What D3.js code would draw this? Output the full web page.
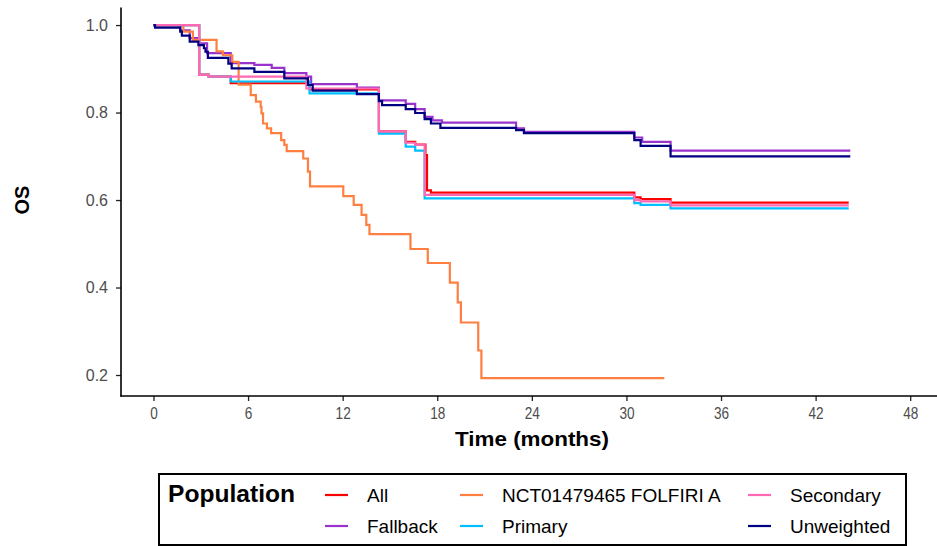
<!DOCTYPE html>
<html>
<head>
<meta charset="utf-8">
<script src="https://cdn.jsdelivr.net/npm/d3@7"></script>
<style>
  html, body { margin: 0; padding: 0; background: #ffffff; }
  svg { display: block; font-family: "Liberation Sans", Arial, sans-serif; }
</style>
</head>
<body>
<svg id="chart" width="937" height="546"></svg>
<script>
// Kaplan-Meier overall survival estimates (time in months, survival probability)
const allTime = [0, 2.9, 3.5, 4.9, 9.9, 14.3, 16.0, 16.6, 17.25, 17.35, 17.6, 30.5, 30.9, 32.8, 44.1];
const allSurv = [1.0, 0.887, 0.882, 0.867, 0.853, 0.757, 0.733, 0.727, 0.703, 0.622, 0.617, 0.606, 0.602, 0.594, 0.594];

const fallbackTime = [0, 1.7, 2.3, 2.9, 3.4, 4.9, 6.4, 7.5, 8.3, 9.7, 10.0, 12.9, 14.3, 16.0, 16.6, 17.2, 17.7, 18.3, 23.0, 23.5, 30.5, 31.0, 32.8, 44.2];
const fallbackSurv = [1.0, 0.988, 0.970, 0.958, 0.936, 0.913, 0.909, 0.902, 0.890, 0.882, 0.865, 0.857, 0.828, 0.820, 0.808, 0.790, 0.782, 0.777, 0.764, 0.756, 0.743, 0.733, 0.713, 0.713];

const nctTime = [0, 1.9, 2.5, 4.0, 4.4, 5.0, 5.4, 6.17, 6.5, 6.8, 6.85, 6.95, 7.2, 7.46, 8.1, 8.3, 8.45, 9.5, 9.8, 9.93, 12.04, 12.7, 13.2, 13.5, 13.7, 16.3, 17.4, 18.8, 19.3, 19.5, 20.6, 20.8, 32.4];
const nctSurv = [1.0, 0.985, 0.966, 0.940, 0.931, 0.916, 0.864, 0.840, 0.825, 0.813, 0.798, 0.775, 0.764, 0.753, 0.737, 0.726, 0.712, 0.695, 0.665, 0.631, 0.609, 0.589, 0.566, 0.543, 0.522, 0.488, 0.456, 0.411, 0.366, 0.320, 0.256, 0.193, 0.193];

const primaryTime = [0, 2.9, 3.5, 4.9, 9.9, 14.3, 16.0, 16.6, 17.2, 30.5, 30.9, 32.8, 44.1];
const primarySurv = [1.0, 0.886, 0.882, 0.871, 0.844, 0.752, 0.722, 0.713, 0.604, 0.593, 0.589, 0.581, 0.581];

const secondaryTime = [0, 2.9, 3.5, 9.7, 14.3, 16.0, 16.6, 17.2, 30.5, 30.9, 32.8, 44.1];
const secondarySurv = [1.0, 0.886, 0.882, 0.855, 0.757, 0.731, 0.726, 0.612, 0.600, 0.597, 0.588, 0.588];

const unweightedTime = [0, 0.1, 1.7, 1.8, 2.3, 2.85, 3.2, 3.3, 3.45, 4.75, 4.96, 6.4, 8.3, 9.8, 10.1, 12.9, 14.3, 14.5, 16.0, 16.6, 17.2, 17.6, 18.2, 23.0, 23.5, 30.5, 30.9, 32.8, 44.2];
const unweightedSurv = [1.0, 0.994, 0.985, 0.976, 0.962, 0.954, 0.947, 0.939, 0.925, 0.912, 0.901, 0.893, 0.878, 0.863, 0.850, 0.842, 0.826, 0.817, 0.808, 0.799, 0.785, 0.775, 0.765, 0.760, 0.753, 0.737, 0.724, 0.700, 0.700];

const populations = ["All", "Fallback", "NCT01479465 FOLFIRI A", "Primary", "Secondary", "Unweighted"];
const popColors = ["#FF0000", "#9933CC", "#FF7F40", "#00BFFF", "#FF69B4", "#000080"];

const xTicks = [0, 6, 12, 18, 24, 30, 36, 42, 48];
const yTicks = [0.2, 0.4, 0.6, 0.8, 1.0];

const seriesTimes = [allTime, fallbackTime, nctTime, primaryTime, secondaryTime, unweightedTime];
const seriesSurv = [allSurv, fallbackSurv, nctSurv, primarySurv, secondarySurv, unweightedSurv];

const svg = d3.select("#chart");

const x = d3.scaleLinear().domain([-2.06, 49.7]).range([121, 937]);
const y = d3.scaleLinear().domain([0.152, 1.039]).range([396, 8]);

// Survival curves, drawn in factor order so later groups sit on top
const line = d3.line()
  .x(d => x(d[0]))
  .y(d => y(d[1]))
  .curve(d3.curveStepAfter);

const curves = svg.append("g");
populations.forEach((name, i) => {
  const pts = seriesTimes[i].map((t, j) => [t, seriesSurv[i][j]]);
  curves.append("path")
    .datum(pts)
    .attr("fill", "none")
    .attr("stroke", popColors[i])
    .attr("stroke-width", 2.2)
    .attr("d", line);
});

// Axes
const xAxis = svg.append("g")
  .attr("transform", "translate(0,396)")
  .call(d3.axisBottom(x).tickValues(xTicks).tickFormat(d3.format("d")).tickSize(5).tickPadding(6));
xAxis.select(".domain").remove();
xAxis.selectAll(".tick line").attr("stroke", "#222").attr("stroke-width", 1.3);
xAxis.selectAll(".tick text")
  .attr("fill", "#4D4D4D")
  .style("font-size", "17px")
  .attr("transform", "scale(0.8,1)");

const yAxis = svg.append("g")
  .attr("transform", "translate(121,0)")
  .call(d3.axisLeft(y).tickValues(yTicks).tickFormat(d3.format(".1f")).tickSize(5).tickPadding(8));
yAxis.select(".domain").remove();
yAxis.selectAll(".tick line").attr("stroke", "#222").attr("stroke-width", 1.3);
yAxis.selectAll(".tick text")
  .attr("fill", "#4D4D4D")
  .style("font-size", "16px");

// Axis lines
svg.append("line").attr("x1", 121).attr("x2", 121).attr("y1", 7.5).attr("y2", 396.5)
  .attr("stroke", "#000").attr("stroke-width", 1.6);
svg.append("line").attr("x1", 120.2).attr("x2", 937).attr("y1", 396).attr("y2", 396)
  .attr("stroke", "#000").attr("stroke-width", 1.6);

// Axis titles
svg.append("text")
  .attr("x", 532).attr("y", 446)
  .attr("text-anchor", "middle")
  .style("font-size", "21px").style("font-weight", "bold")
  .attr("textLength", 154).attr("lengthAdjust", "spacingAndGlyphs")
  .text("Time (months)");

svg.append("text")
  .attr("transform", "translate(29,200) rotate(-90)")
  .attr("text-anchor", "middle")
  .style("font-size", "20px").style("font-weight", "bold")
  .text("OS");

// Legend box and title
const legend = svg.append("g");
legend.append("rect")
  .attr("x", 159).attr("y", 474).attr("width", 747).attr("height", 71)
  .attr("fill", "#fff").attr("stroke", "#000").attr("stroke-width", 2);

legend.append("text")
  .attr("x", 168).attr("y", 502)
  .style("font-size", "23px").style("font-weight", "bold")
  .attr("textLength", 127).attr("lengthAdjust", "spacingAndGlyphs")
  .text("Population");

// Keys fill a 2-row grid column by column
const colX = [325, 460, 748];
const rowY = [495, 526];
populations.forEach((name, idx) => {
  const gx = colX[Math.floor(idx / 2)];
  const gy = rowY[idx % 2];
  legend.append("line")
    .attr("x1", gx).attr("x2", gx + 23)
    .attr("y1", gy).attr("y2", gy)
    .attr("stroke", popColors[idx]).attr("stroke-width", 2.2);
  legend.append("text")
    .attr("x", gx + 42).attr("y", gy + 7)
    .style("font-size", "19px")
    .attr("fill", "#000")
    .text(name);
});
</script>
</body>
</html>
